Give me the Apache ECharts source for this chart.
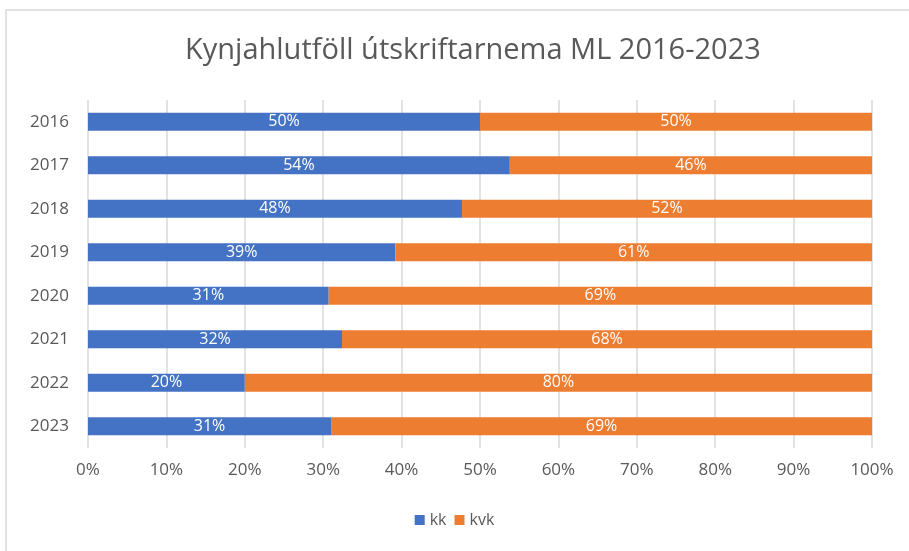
<!DOCTYPE html>
<html>
<head>
<meta charset="utf-8">
<style>
  html, body { margin: 0; padding: 0; background: #fff; }
  #chart { width: 909px; height: 551px; }
</style>
<script src="https://cdn.jsdelivr.net/npm/echarts@6/dist/echarts.min.js"></script>
</head>
<body>
<div id="chart"></div>
<script>
const YEARS = ['2016', '2017', '2018', '2019', '2020', '2021', '2022', '2023'];
const kk = [50, 53.8, 47.7, 39.2, 30.7, 32.4, 20.0, 31.0];
const kvk = [50, 46.2, 52.3, 60.8, 69.3, 67.6, 80.0, 69.0];

const chart = echarts.init(document.querySelector('#chart'));
const font = '"Open Sans", sans-serif';

const barLabel = {
  show: true,
  position: 'inside',
  color: '#fff',
  fontSize: 16,
  fontFamily: font,
  formatter: (p) => Math.round(p.value) + '%',
};

const option = {
  animation: false,
  textStyle: { fontFamily: font },
  graphic: [
    {
      type: 'rect',
      shape: { x: 6, y: 10, width: 920, height: 560 },
      style: { fill: 'none', stroke: '#d9d9d9', lineWidth: 1.5 },
    },
  ],
  title: {
    text: 'Kynjahlutföll útskriftarnema ML 2016-2023',
    left: 180,
    top: 31,
    textStyle: { fontSize: 29, fontWeight: 'normal', color: '#595959', fontFamily: font },
  },
  legend: {
    bottom: 18,
    left: 'center',
    itemWidth: 10,
    itemHeight: 10,
    icon: 'rect',
    itemGap: 8,
    textStyle: { fontSize: 16, color: '#595959', fontFamily: font },
    data: ['kk', 'kvk'],
  },
  grid: { left: 88, right: 37, top: 100, bottom: 103, containLabel: false },
  xAxis: {
    type: 'value',
    min: 0,
    max: 100,
    interval: 10,
    axisLine: { show: false },
    axisTick: { show: false },
    axisLabel: { formatter: '{value}%', color: '#595959', fontSize: 17, margin: 14 },
    splitLine: { lineStyle: { color: '#d9d9d9', width: 1.5 } },
  },
  yAxis: {
    type: 'category',
    data: YEARS,
    inverse: true,
    axisLine: { show: false },
    axisTick: { show: false },
    axisLabel: { color: '#595959', fontSize: 17, margin: 19 },
  },
  series: [
    {
      name: 'kk',
      type: 'bar',
      stack: 'total',
      data: kk,
      barWidth: 18,
      itemStyle: { color: '#4472c4' },
      label: barLabel,
    },
    {
      name: 'kvk',
      type: 'bar',
      stack: 'total',
      data: kvk,
      barWidth: 18,
      itemStyle: { color: '#ed7d31' },
      label: barLabel,
    },
  ],
};

chart.setOption(option);
window.addEventListener('resize', () => chart.resize());
</script>
</body>
</html>
